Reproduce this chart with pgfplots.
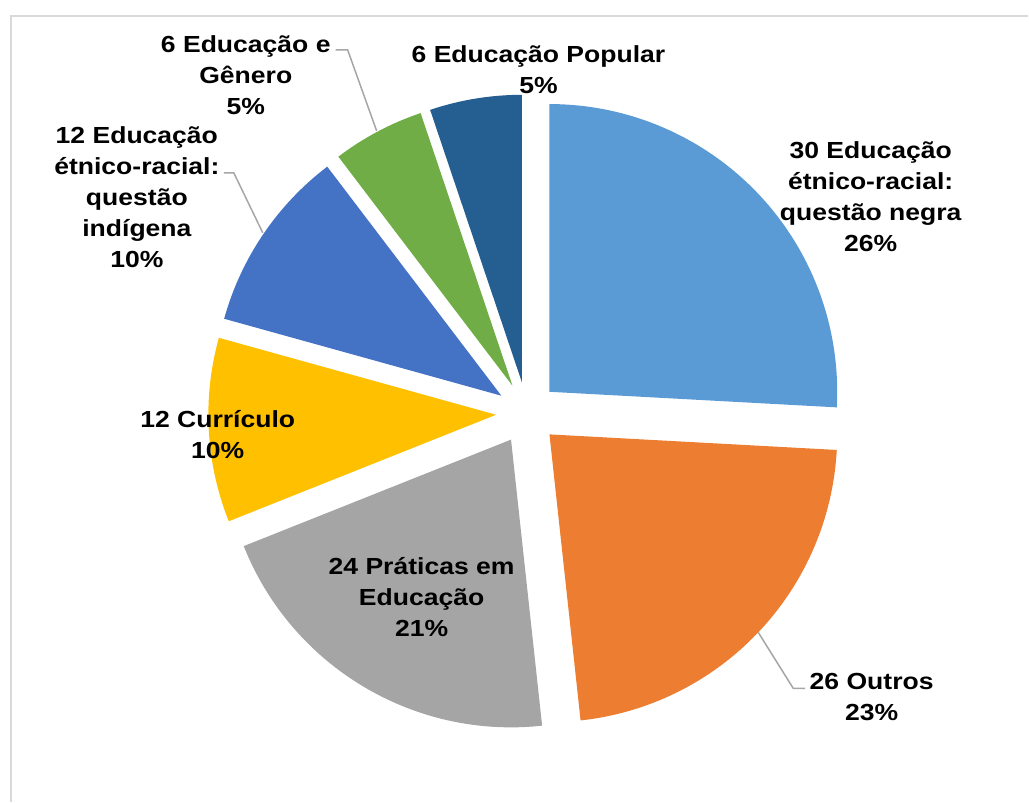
\documentclass[border=0pt]{standalone}
\usepackage{pgfplots}
\pgfplotsset{compat=1.18}
\usepackage{fontspec}
\setmainfont{Liberation Sans}
\newfontfamily\lab[FakeStretch=1.14]{Liberation Sans}
\definecolor{cNegra}{HTML}{5B9BD5}
\definecolor{cOutros}{HTML}{ED7D31}
\definecolor{cPraticas}{HTML}{A5A5A5}
\definecolor{cCurriculo}{HTML}{FFC000}
\definecolor{cIndigena}{HTML}{4472C4}
\definecolor{cGenero}{HTML}{70AD47}
\definecolor{cPopular}{HTML}{255E91}
\definecolor{cLeader}{HTML}{A6A6A6}
\definecolor{cBorder}{HTML}{D9D9D9}
\def\total{116}
\def\astart{90}
\newcommand\slice[2]{%
  \pgfmathsetmacro\aend{\astart-360*#1/\total}%
  \pgfmathsetmacro\amid{(\astart+\aend)/2}%
  \pgfmathsetmacro\px{527.5+31*cos(\amid)}%
  \pgfmathsetmacro\py{389.5+31*sin(\amid)}%
  \edef\temp{\noexpand\fill[#2] (axis cs:\px,\py) -- ++(\astart:144bp) arc[start angle=\astart, end angle=\aend, radius=144bp] -- cycle;}%
  \temp
  \global\let\astart\aend
}
\begin{document}
\begin{tikzpicture}
\begin{axis}[
  width=514.5bp, height=401.5bp, scale only axis,
  xmin=0, xmax=1029, ymin=0, ymax=803,
  hide axis, clip=false,
]
\path (axis cs:0,0) rectangle (axis cs:1029,803);
\draw[cBorder, line width=1bp] (axis cs:11,0) -- (axis cs:11,787) -- (axis cs:1029,787);
\slice{30}{cNegra}
\slice{26}{cOutros}
\slice{24}{cPraticas}
\slice{12}{cCurriculo}
\slice{12}{cIndigena}
\slice{6}{cGenero}
\slice{6}{cPopular}
\draw[cLeader, line width=0.75bp] (axis cs:336,753) -- (axis cs:348,753) -- (axis cs:377,672);
\draw[cLeader, line width=0.75bp] (axis cs:224,630) -- (axis cs:234,630) -- (axis cs:263,570);
\draw[cLeader, line width=0.75bp] (axis cs:759,170) -- (axis cs:794,114) -- (axis cs:806,114);
\tikzset{lbl/.style={align=center, inner sep=0pt, font=\lab\bfseries\fontsize{11.65bp}{15.5bp}\selectfont}}
\node[lbl] at (axis cs:539,733.5) {6 Educação Popular\\5\%};
\node[lbl] at (axis cs:871.5,606.5) {30 Educação\\étnico-racial:\\questão negra\\26\%};
\node[lbl] at (axis cs:872.5,105) {26 Outros\\23\%};
\node[lbl] at (axis cs:422,205.5) {24 Práticas em\\Educação\\21\%};
\node[lbl] at (axis cs:218,368) {12 Currículo\\10\%};
\node[lbl] at (axis cs:137,606) {12 Educação\\étnico-racial:\\questão\\indígena\\10\%};
\node[lbl] at (axis cs:246,728) {6 Educação e\\Gênero\\5\%};
\end{axis}
\end{tikzpicture}
\end{document}
